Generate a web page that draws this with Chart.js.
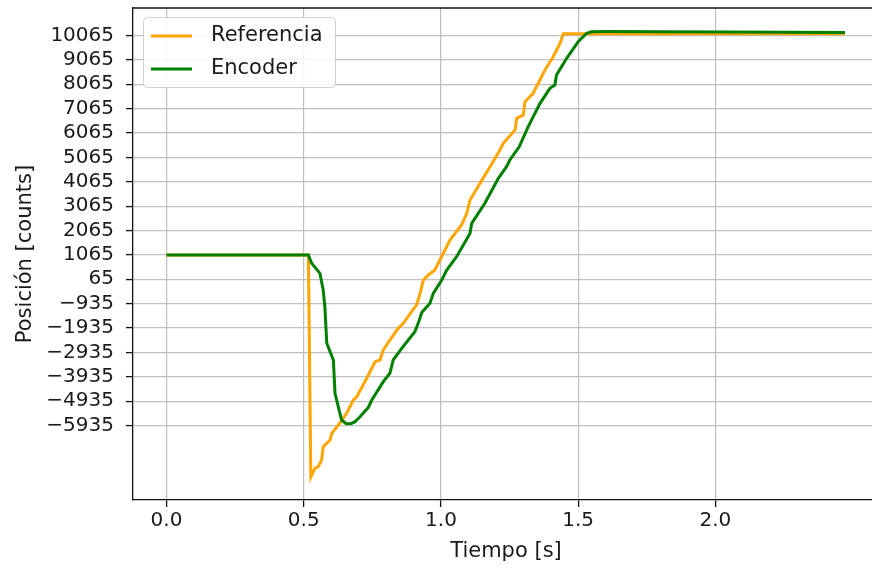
<!DOCTYPE html>
<html>
<head>
<meta charset="utf-8">
<script src="https://cdn.jsdelivr.net/npm/chart.js@4/dist/chart.umd.min.js"></script>
<style>
  html, body { margin: 0; padding: 0; background: #fff; overflow: hidden; }
  #wrap { width: 872px; height: 569px; overflow: hidden; }
</style>
</head>
<body>
<div id="wrap"><canvas id="c" width="879" height="569"></canvas></div>
<script>
// posición de referencia y de encoder
const refTime = [0, 0.517, 0.526, 0.541, 0.553, 0.565, 0.571, 0.596, 0.602, 0.626, 0.656, 0.681, 0.693, 0.725, 0.760, 0.778, 0.790, 0.814, 0.844, 0.863, 0.893, 0.911, 0.924, 0.936, 0.955, 0.978, 0.996, 1.033, 1.075, 1.094, 1.106, 1.142, 1.180, 1.215, 1.227, 1.270, 1.276, 1.300, 1.306, 1.336, 1.379, 1.409, 1.434, 1.446, 2.472];
const refPos = [1065, 1065, -8040, -7690, -7625, -7350, -6805, -6530, -6255, -5915, -5435, -4889, -4754, -4100, -3318, -3248, -2838, -2428, -1948, -1742, -1266, -991, -512, 34, 250, 445, 855, 1676, 2291, 2771, 3316, 3998, 4700, 5368, 5642, 6188, 6668, 6803, 7349, 7694, 8650, 9195, 9745, 10140, 10140];

const encTime = [0, 0.517, 0.529, 0.545, 0.559, 0.571, 0.577, 0.584, 0.608, 0.614, 0.638, 0.655, 0.672, 0.687, 0.705, 0.735, 0.748, 0.790, 0.814, 0.826, 0.857, 0.905, 0.920, 0.930, 0.960, 0.972, 1.003, 1.021, 1.057, 1.106, 1.112, 1.160, 1.209, 1.239, 1.251, 1.285, 1.318, 1.361, 1.397, 1.415, 1.421, 1.458, 1.500, 1.531, 1.549, 1.600, 2.472];
const encPos = [1065, 1065, 719, 500, 309, -376, -1061, -2562, -3248, -4615, -5710, -5860, -5860, -5778, -5573, -5200, -4889, -4137, -3793, -3248, -2768, -2086, -1650, -1300, -922, -512, 34, 445, 992, 1950, 2360, 3181, 4207, 4683, 4957, 5500, 6324, 7283, 7898, 8034, 8445, 9130, 9811, 10155, 10220, 10230, 10185];

const yTicks = [10065, 9065, 8065, 7065, 6065, 5065, 4065, 3065, 2065, 1065, 65, -935, -1935, -2935, -3935, -4935, -5935];
const xTicks = [0, 0.5, 1, 1.5, 2];

const FONT = 'DejaVu Sans';
const TEXT = '#1a1a1a';

const toPts = (ts, vs) => ts.map((t, i) => ({ x: t, y: vs[i] }));

// borde superior y leyenda estilo matplotlib
const frame = {
  id: 'frame',
  afterDraw(c) {
    const ctx = c.ctx, a = c.chartArea;
    ctx.save();
    ctx.strokeStyle = '#111';
    ctx.lineWidth = 1.3;
    ctx.beginPath();
    ctx.moveTo(a.left, a.top);
    ctx.lineTo(a.right, a.top);
    ctx.stroke();

    // leyenda
    const bx = 143.5, by = 17.5, bw = 192, bh = 70;
    ctx.fillStyle = 'rgba(255,255,255,0.85)';
    ctx.strokeStyle = '#d0d0d0';
    ctx.lineWidth = 1;
    ctx.beginPath();
    ctx.roundRect(bx, by, bw, bh, 4);
    ctx.fill();
    ctx.stroke();
    const items = [c.data.datasets[0], c.data.datasets[1]];
    ctx.font = '21px "' + FONT + '"';
    ctx.textBaseline = 'middle';
    items.forEach((d, i) => {
      const y = 36 + i * 33;
      ctx.strokeStyle = d.borderColor;
      ctx.lineWidth = 3;
      ctx.beginPath();
      ctx.moveTo(151, y);
      ctx.lineTo(192, y);
      ctx.stroke();
      ctx.fillStyle = TEXT;
      ctx.fillText(d.label, 211, y);
    });
    ctx.restore();
  }
};

new Chart(document.getElementById('c'), {
  type: 'line',
  data: {
    datasets: [
      { label: 'Referencia', data: toPts(refTime, refPos), borderColor: '#FFA500', backgroundColor: '#FFA500', order: 1 },
      { label: 'Encoder', data: toPts(encTime, encPos), borderColor: '#008000', backgroundColor: '#008000', order: 0 }
    ]
  },
  options: {
    responsive: false,
    devicePixelRatio: 1,
    animation: false,
    layout: { padding: { top: 8, right: 0, left: 0, bottom: 0 } },
    plugins: { legend: { display: false }, tooltip: { enabled: false } },
    elements: { point: { radius: 0 }, line: { borderWidth: 3, tension: 0 } },
    scales: {
      x: {
        type: 'linear',
        min: -0.122,
        max: 2.596,
        afterBuildTicks: (s) => { s.ticks = xTicks.map((v) => ({ value: v })); },
        afterFit: (s) => { s.height = 69; s.paddingLeft = 0; s.paddingRight = 0; },
        ticks: { color: TEXT, font: { family: FONT, size: 20 }, padding: 2, maxRotation: 0, callback: (v) => v.toFixed(1) },
        grid: { color: '#bfbfbf', lineWidth: 1.2, tickLength: 7, tickColor: '#111', tickWidth: 1.3 },
        border: { color: '#111', width: 1.3 },
        title: { display: true, text: 'Tiempo [s]', color: TEXT, font: { family: FONT, size: 21 }, padding: { top: 0, bottom: 5 } }
      },
      y: {
        type: 'linear',
        min: -8991,
        max: 11193,
        afterBuildTicks: (s) => { s.ticks = yTicks.map((v) => ({ value: v })); },
        afterFit: (s) => { s.width = 133; s.paddingTop = 0; s.paddingBottom = 0; },
        ticks: { color: TEXT, font: { family: FONT, size: 20 }, padding: 12, callback: (v) => String(v).replace('-', '\u2212') },
        grid: { color: '#bfbfbf', lineWidth: 1.2, tickLength: 7, tickColor: '#111', tickWidth: 1.3 },
        border: { color: '#111', width: 1.3 },
        title: { display: true, text: 'Posición [counts]', color: TEXT, font: { family: FONT, size: 21 }, padding: { top: 13, bottom: 0 } }
      }
    }
  },
  plugins: [frame]
});
</script>
</body>
</html>
